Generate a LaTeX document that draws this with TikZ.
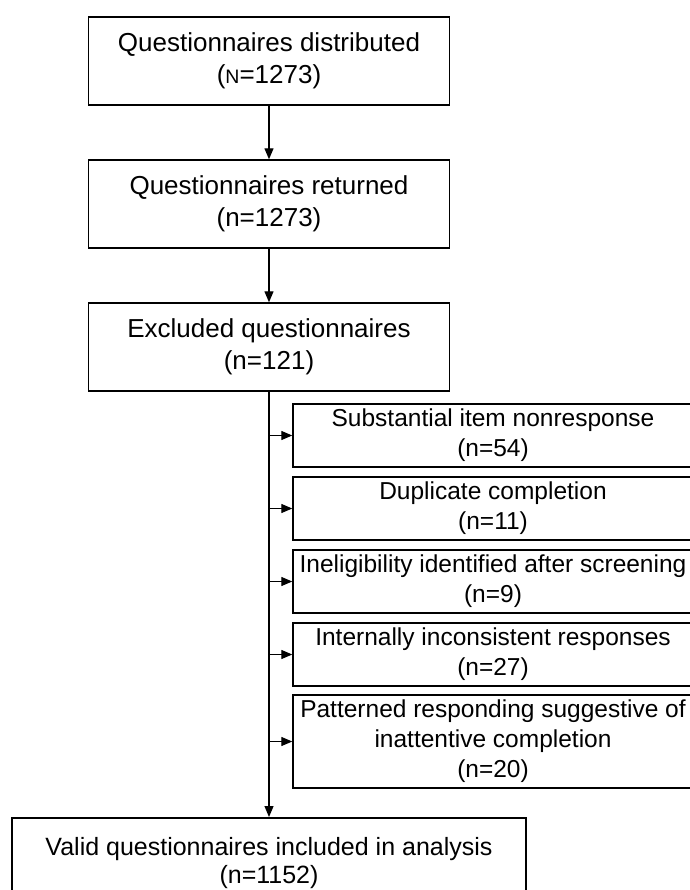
\documentclass[tikz,border=0pt]{standalone}
\usepackage{fontspec}
\setmainfont{Liberation Sans}
\usetikzlibrary{arrows.meta,positioning}

\begin{document}
\begin{tikzpicture}[x=1pt,y=-1pt,node distance=143pt,on grid,
  >={Triangle[length=11pt,width=9pt]},
  every node/.style={font=\fontsize{26}{32}\selectfont},
  stagebox/.style={draw,line width=1.4pt,minimum width=361pt,minimum height=88pt,
    inner sep=0pt,align=center},
  exclbox/.style={draw,line width=1.4pt,minimum width=400pt,minimum height=63pt,
    inner sep=0pt,align=center,font=\fontsize{24.5}{30}\selectfont},
  link/.style={line width=1.2pt}]
\useasboundingbox (0,0) rectangle (689,890);
% main column
\node[stagebox] (dist) at (269,61) {Questionnaires distributed\\({\fontsize{19.5}{32}\selectfont N}=1273)};
\node[stagebox] (ret) [below=of dist] {Questionnaires returned\\(n=1273)};
\node[stagebox] (excl) [below=of ret] {Excluded questionnaires\\(n=121)};
% reasons for exclusion
\node[exclbox] (item) at (493,435.5) {Substantial item nonresponse\\(n=54)};
\node[exclbox] (dup) [below=73pt of item] {Duplicate completion\\(n=11)};
\node[exclbox] (inel) [below=73pt of dup] {Ineligibility identified after screening\\(n=9)};
\node[exclbox] (incons) [below=73pt of inel] {Internally inconsistent responses\\(n=27)};
\node[exclbox,minimum height=93pt] (patt) at (493,741.5) {Patterned responding suggestive of\\inattentive completion\\(n=20)};
\node[draw,line width=2pt,minimum width=514pt,minimum height=90pt,inner sep=0pt,
  align=center,font=\fontsize{25}{28}\selectfont] (valid) at (269,863)
  {Valid questionnaires included in analysis\\(n=1152)};
\draw[link,->] (dist) -- (ret);
\draw[link,->] (ret) -- (excl);
\draw[link,->] (excl) -- (valid);
\foreach \n in {item,dup,inel,incons,patt}
  \draw[link,->] (excl.south |- \n.west) -- (\n.west);
\end{tikzpicture}
\end{document}
